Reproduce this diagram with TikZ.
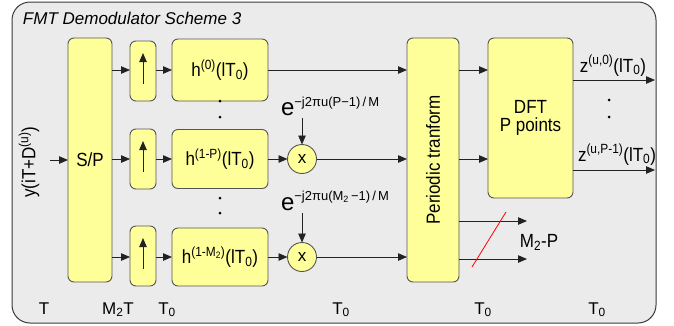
\documentclass[tikz,border=0pt]{standalone}
\usepackage{fontspec}
\usepackage{graphicx}
\setmainfont{Liberation Sans}
\usetikzlibrary{arrows.meta}

\definecolor{boxfill}{HTML}{FFFF99}
\definecolor{boxline}{HTML}{555555}
\definecolor{framefill}{HTML}{EBEBEB}
\definecolor{frameline}{HTML}{3A3A3A}
\definecolor{wire}{HTML}{222222}

\newcommand{\mainfs}{\fontsize{17}{19}\selectfont}
\newcommand{\expfs}{\fontsize{13}{15}\selectfont}
\newcommand{\bigefs}{\fontsize{24}{26}\selectfont}
% slightly tall lettering used for the block labels
\newcommand{\tall}[1]{\scalebox{1}[1.12]{#1}}

\tikzset{
  blk/.style={draw=boxline, fill=boxfill, line width=0.9pt, rounded corners=6pt,
              inner sep=0pt, outer sep=0pt, font=\mainfs},
  mul/.style={circle, draw=boxline, fill=boxfill, line width=0.9pt, minimum size=29pt,
              inner sep=0pt, outer sep=0pt, font=\mainfs},
  sig/.style={draw=wire, line width=0.8pt, -{Triangle[length=9pt,width=7.5pt]}},
  lbl/.style={font=\mainfs, inner sep=0pt, outer sep=0pt},
  dotmark/.style={fill=black, circle, inner sep=0pt, minimum size=3pt},
}

\begin{document}
\begin{tikzpicture}[x=1pt, y=-1pt]
  \useasboundingbox (0,0) rectangle (674,325);

  % enclosing panel
  \draw[draw=frameline, fill=framefill, line width=1pt, rounded corners=18pt]
    (12,2) rectangle (656,323);
  \node[lbl, anchor=base west, font=\fontsize{17}{19}\selectfont\itshape] (title) at (23,24)
    {FMT Demodulator Scheme 3};

  % serial-to-parallel converter
  \node[blk, minimum width=44pt, minimum height=244pt] (sp) at (90,160) {\tall{S/P}};
  \node[lbl, rotate=90] (yin) at (29,162) {\tall{y(iT+D\textsuperscript{(u)})}};
  \coordinate (in) at (50,160);
  \draw[sig] (in) -- (in -| sp.west);

  % upsamplers
  \node[blk, minimum width=26pt, minimum height=60pt] (up1) at (143,71) {};
  \node[blk, minimum width=26pt, minimum height=60pt] (up2) at (143,159) {};
  \node[blk, minimum width=26pt, minimum height=60pt] (up3) at (143,256) {};
  \foreach \yy in {71,159,256}
    \draw[sig] (143,\yy+13) -- (143,\yy-18);

  % polyphase filters
  \node[blk, minimum width=96pt, minimum height=62pt] (h1) at (220,70)
    {\tall{h\textsuperscript{(0)}(lT\textsubscript{0})}};
  \node[blk, minimum width=96pt, minimum height=59pt] (h2) at (220,159)
    {\tall{h\textsuperscript{(1-P)}(lT\textsubscript{0})}};
  \node[blk, minimum width=96pt, minimum height=58pt] (h3) at (220,257)
    {\tall{h\textsuperscript{(1-M\textsubscript{2})}(lT\textsubscript{0})}};

  \node[dotmark] (d1) at (220,101) {};
  \node[dotmark] (d2) at (220,117) {};
  \node[dotmark] (d3) at (220,198) {};
  \node[dotmark] (d4) at (220,213) {};

  \draw[sig] (sp.east |- h1.west) -- (up1.west |- h1.west);
  \draw[sig] (up1.east |- h1.west) -- (h1.west);
  \draw[sig] (sp.east |- h2.west) -- (up2.west |- h2.west);
  \draw[sig] (up2.east |- h2.west) -- (h2.west);
  \draw[sig] (sp.east |- h3.west) -- (up3.west |- h3.west);
  \draw[sig] (up3.east |- h3.west) -- (h3.west);

  % phase rotations
  \node[mul] (m1) at (302,159) {x};
  \node[mul] (m2) at (302,257) {x};
  \node[lbl, anchor=base west] (e1) at (281,115)
    {{\bigefs e}\raisebox{9pt}{\expfs −j2πu(P−1)\,/\,M}};
  \node[lbl, anchor=base west] (e2) at (281,210)
    {{\bigefs e}\raisebox{10pt}{\expfs −j2πu(M\textsubscript{2}\,−1)\,/\,M}};
  \coordinate (e1a) at (302,118);
  \coordinate (e2a) at (302,213);
  \draw[sig] (e1a) -- (m1.north);
  \draw[sig] (e2a) -- (m2.north);

  % periodic transform
  \node[blk, minimum width=52pt, minimum height=244pt] (pt) at (433,160) {};
  \node[lbl, rotate=90] (ptl) at (433,160) {\tall{Periodic tranform}};

  \draw[sig] (h1.east) -- (h1.east -| pt.west);
  \draw[sig] (h2.east) -- (m1.west);
  \draw[sig] (m1.east) -- (m1.east -| pt.west);
  \draw[sig] (h3.east) -- (m2.west);
  \draw[sig] (m2.east) -- (m2.east -| pt.west);

  % DFT
  \node[blk, minimum width=85pt, minimum height=160pt, align=center] (dft) at (530.5,118)
    {\tall{DFT}\\[-1pt]\tall{P points}};
  \draw[sig] (pt.east |- h1.east) -- (dft.west |- h1.east);
  \draw[sig] (pt.east |- m1.east) -- (dft.west |- m1.east);

  % discarded branches
  \coordinate (p1) at (527,221);
  \coordinate (p2) at (527,259);
  \draw[sig] (pt.east |- p1) -- (p1);
  \draw[sig] (pt.east |- p2) -- (p2);
  \coordinate (s1) at (472,267);
  \coordinate (s2) at (506,212);
  \draw[red, line width=0.8pt] (s1) -- (s2);
  \node[lbl] (mp) at (539,242) {\tall{M\textsubscript{2}-P}};

  % DFT outputs
  \coordinate (o1) at (655,80);
  \coordinate (o2) at (655,170);
  \draw[sig] (dft.east |- o1) -- (o1);
  \draw[sig] (dft.east |- o2) -- (o2);
  \node[lbl, anchor=base] (z1) at (613,72) {\tall{z\textsuperscript{(u,0)}(lT\textsubscript{0})}};
  \node[lbl, anchor=base] (z2) at (617,161) {\tall{z\textsuperscript{(u,P-1)}(lT\textsubscript{0})}};
  \node[dotmark] (d5) at (609,100) {};
  \node[dotmark] (d6) at (609,117) {};

  % sampling periods
  \node[lbl, anchor=base] (t1) at (44,314) {T};
  \node[lbl, anchor=base] (t2) at (118,314) {M\textsubscript{2}T};
  \node[lbl, anchor=base] (t3) at (167,314) {T\textsubscript{0}};
  \node[lbl, anchor=base] (t4) at (341,314) {T\textsubscript{0}};
  \node[lbl, anchor=base] (t5) at (483,314) {T\textsubscript{0}};
  \node[lbl, anchor=base] (t6) at (597,314) {T\textsubscript{0}};
\end{tikzpicture}
\end{document}
